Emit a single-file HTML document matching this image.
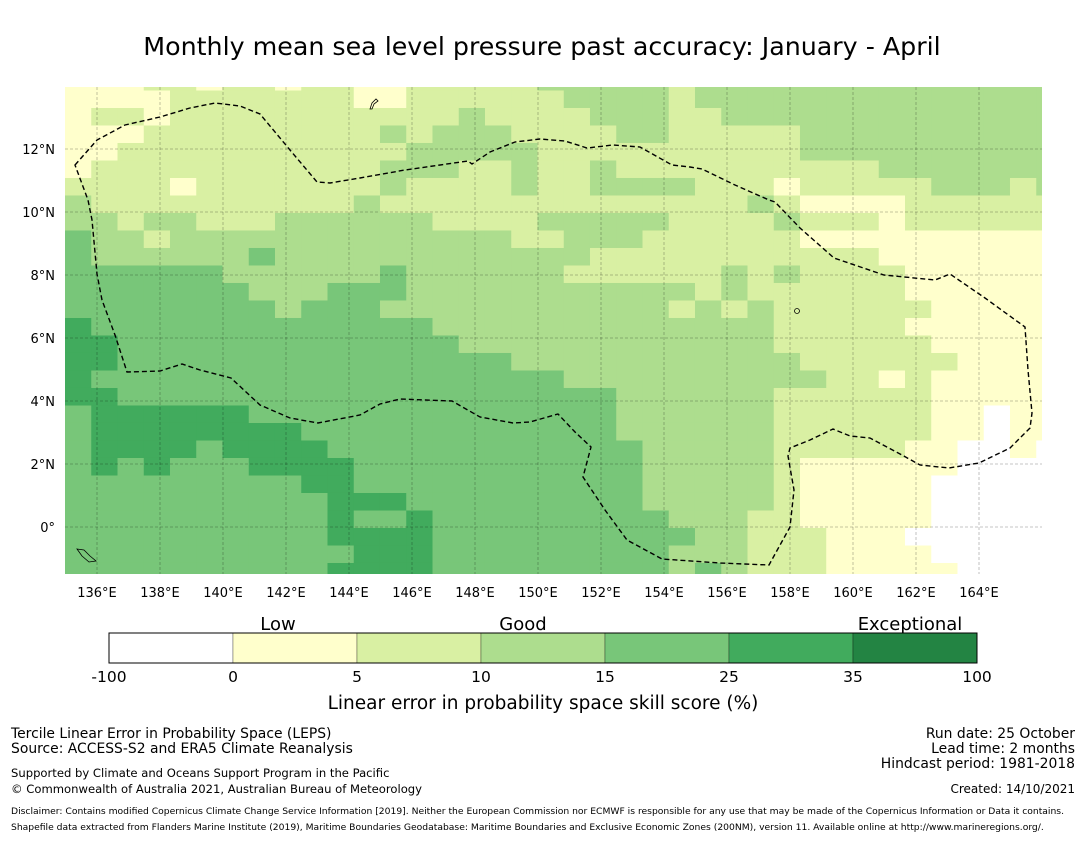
<!DOCTYPE html>
<html><head><meta charset="utf-8">
<style>
body{margin:0;background:#fff;font-family:"Liberation Sans","DejaVu Sans",sans-serif;}
svg text{font-family:"DejaVu Sans","Liberation Sans",sans-serif;}
</style></head>
<body>
<svg id="chart" width="1085" height="839" viewBox="0 0 1085 839" xmlns="http://www.w3.org/2000/svg">
<rect width="1085" height="839" fill="#fff"/>
<text x="542" y="55" text-anchor="middle" font-size="25.3" fill="#000">Monthly mean sea level pressure past accuracy: January - April</text>
<defs><clipPath id="mapclip"><rect x="65" y="87" width="977" height="487"/></clipPath></defs>
<g id="cells" clip-path="url(#mapclip)"></g>
<g id="grid" clip-path="url(#mapclip)"></g>
<path clip-path="url(#mapclip)" fill="none" stroke="#000" stroke-width="1.4" stroke-dasharray="5,3" d="M75,165 L97,140 L125,125 L160,117 L190,108 L215,103 L240,106 L260,114 L290,150 L317,182 L330,183 L360,178 L405,170 L468,161 L472,164 L490,152 L515,142 L540,139 L565,141 L587,148 L613,145 L640,147 L672,165 L690,167 L702,169 L735,185 L769,200 L775,202 L800,228 L834,258 L884,275 L935,280 L950,274 L985,298 L1025,327 L1028,370 L1032,413 L1030,428 L1010,448 L979,463 L949,468 L920,465 L902,455 L870,438 L850,436 L833,429 L810,440 L790,448 L788,456 L794,490 L790,527 L769,565 L720,563 L662,559 L627,540 L605,510 L583,477 L591,447 L575,432 L558,414 L530,422 L513,423 L480,417 L452,401 L400,399 L380,404 L360,415 L318,423 L290,418 L260,405 L231,378 L200,370 L182,364 L160,371 L127,372 L115,335 L102,300 L97,274 L92,220 L88,200 Z"/>
<g id="islands" fill="none" stroke="#000" stroke-width="0.8">
<path d="M370,109 L372,103 L376,99 L378,101 L374,104 L372,109Z"/>
<path d="M77,549 L84,550 L90,556 L96,561 L89,562 L82,556Z"/>
<circle cx="797" cy="311" r="2.5"/>
</g>
<g id="axes"></g>
<g id="colorbar"></g>
<text x="278" y="630" text-anchor="middle" font-size="18">Low</text>
<text x="523" y="630" text-anchor="middle" font-size="18">Good</text>
<text x="910" y="630" text-anchor="middle" font-size="18">Exceptional</text>
<text x="543" y="709" text-anchor="middle" font-size="18.5">Linear error in probability space skill score (%)</text>
<g font-size="13.9">
<text x="11" y="738">Tercile Linear Error in Probability Space (LEPS)</text>
<text x="11" y="753">Source: ACCESS-S2 and ERA5 Climate Reanalysis</text>
<text x="11" y="777" font-size="11.6">Supported by Climate and Oceans Support Program in the Pacific</text>
<text x="11" y="793" font-size="11.6">© Commonwealth of Australia 2021, Australian Bureau of Meteorology</text>
</g>
<g font-size="13.9" text-anchor="end">
<text x="1075" y="738">Run date: 25 October</text>
<text x="1075" y="753">Lead time: 2 months</text>
<text x="1075" y="768">Hindcast period: 1981-2018</text>
<text x="1075" y="793" font-size="12">Created: 14/10/2021</text>
</g>
<g font-size="9.2">
<text x="11" y="814">Disclaimer: Contains modified Copernicus Climate Change Service Information [2019]. Neither the European Commission nor ECMWF is responsible for any use that may be made of the Copernicus Information or Data it contains.</text>
<text x="11" y="830">Shapefile data extracted from Flanders Marine Institute (2019), Maritime Boundaries Geodatabase: Maritime Boundaries and Exclusive Economic Zones (200NM), version 11. Available online at http://www.marineregions.org/.</text>
</g>
</svg>
<script>
// category representative skill values (%) indexed by code in grid rows
const levelValues = [-20, 2.5, 7.5, 12.5, 20, 30, 50];
// grid rows (north to south), each char = category code per column (west to east)
const gridRows = [
"11122122122112222233333233333333333333",
"11112222222112222223333233333333333333",
"12212222222222232222333223333333333333",
"11122222222232333222233222223333333333",
"11222222222223333322222222223333333333",
"12222222222233322322322222222223333333",
"22221222222232222322333322212222233323",
"32222222222322222222222222321111222222",
"33233222333333222233333222232221222222",
"43323333333333333223332222221111111111",
"43333334333333333333222222222221111111",
"44444433333343333332222223232222111111",
"44444443334443333333333323222222111111",
"44444444344433333333333232322222211111",
"54444444444444333333333333322222111111",
"55444444444444433333333333322222211111",
"55444444444444444333333333332222221111",
"54444444444444444443333333333221211111",
"55444444444444444444433333322222211111",
"45555554444444444444433333322222211011",
"45555555544444444444433333322222211011",
"45555455554444444444443333322222110010",
"45454445555444444444443333321111110000",
"44444444455444444444443333321111100000",
"44444444445554444444443333321111100000",
"44444444445445444444444333221111100000",
"44444444445555444444444433222111000000",
"44444444444555444444444333222111100000",
"44444444445555444444444343222111110000"
];
const binEdges = [0, 5, 10, 15, 25, 35];
const binColors = ["#ffffff","#ffffcc","#d9f0a3","#addd8e","#78c679","#41ab5d","#238443"];
const lonTicks = [136,138,140,142,144,146,148,150,152,154,156,158,160,162,164];
const latTicks = [0,2,4,6,8,10,12];
const cbTickLabels = ["-100","0","5","10","15","25","35","100"];

const gridLon0 = 134.984, dLon = 0.83333, gridLat0 = 14.413, dLat = 0.55556;
function xScale(lon){ return 97 + (lon - 136) * 31.5; }
function yScale(lat){ return 527 - lat * 31.5; }
function colorFor(v){ let i = 0; while (i < binEdges.length && v >= binEdges[i]) i++; return binColors[i]; }
const NS = "http://www.w3.org/2000/svg";
function mk(tag, attrs){ const e = document.createElementNS(NS, tag); for (const k in attrs) e.setAttribute(k, attrs[k]); return e; }

const cells = document.getElementById("cells");
gridRows.forEach((row, r) => {
  for (let c = 0; c < row.length; c++) {
    const v = levelValues[+row[c]];
    const x0 = xScale(gridLon0 + c * dLon), x1 = xScale(gridLon0 + (c + 1) * dLon);
    const y0 = yScale(gridLat0 - r * dLat), y1 = yScale(gridLat0 - (r + 1) * dLat);
    const rect = mk("rect", {x: x0, y: y0, width: x1 - x0 + 0.4, height: y1 - y0 + 0.4, fill: colorFor(v)});
    
    
    cells.appendChild(rect);
  }
});

const grid = document.getElementById("grid");
const axes = document.getElementById("axes");
lonTicks.forEach(lon => {
  const x = xScale(lon);
  const ln = mk("line", {x1: x, x2: x, y1: 87, y2: 574, stroke: "#000", "stroke-opacity": 0.3, "stroke-width": 0.8, "stroke-dasharray": "3,2"});
  
  
  grid.appendChild(ln);
  const t = mk("text", {x: x, y: 597, "text-anchor": "middle", "font-size": 13});
  t.textContent = lon + "°E";
  
  
  axes.appendChild(t);
});
latTicks.forEach(lat => {
  const y = yScale(lat);
  const ln = mk("line", {x1: 65, x2: 1042, y1: y, y2: y, stroke: "#000", "stroke-opacity": 0.3, "stroke-width": 0.8, "stroke-dasharray": "3,2"});
  
  
  grid.appendChild(ln);
  const t = mk("text", {x: 55, y: y + 5, "text-anchor": "end", "font-size": 13});
  t.textContent = lat === 0 ? "0°" : lat + "°N";
  
  
  axes.appendChild(t);
});

const cb = document.getElementById("colorbar");
const cbX0 = 109, cbW = 124, cbY = 633, cbH = 30;
binColors.forEach((col, i) => {
  const r = mk("rect", {x: cbX0 + i * cbW, y: cbY, width: cbW, height: cbH, fill: col, stroke: "#000", "stroke-width": 0.3});
  
  
  cb.appendChild(r);
});
const frame = mk("rect", {x: cbX0, y: cbY, width: cbW * binColors.length, height: cbH, fill: "none", stroke: "#000", "stroke-width": 1});


cb.appendChild(frame);
cbTickLabels.forEach((lab, i) => {
  const t = mk("text", {x: cbX0 + i * cbW, y: 682, "text-anchor": "middle", "font-size": 15.5});
  t.textContent = lab;
  
  
  cb.appendChild(t);
});
</script>
</body></html>
